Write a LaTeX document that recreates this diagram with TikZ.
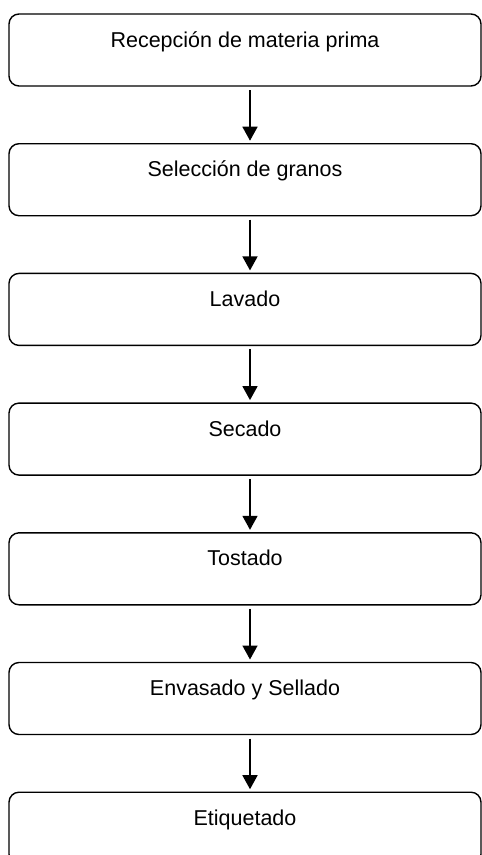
\documentclass[tikz,border=0pt]{standalone}
\usepackage{fontspec}
\setmainfont{Liberation Sans}
\usetikzlibrary{positioning}
\usetikzlibrary{arrows.meta}

\begin{document}
\begin{tikzpicture}[x=1pt,y=-1pt,
    stage/.style={draw,line width=1.4pt,rounded corners=10pt,minimum width=472pt,
        inner sep=0pt,outer sep=0pt,text height=33pt,text depth=39pt,
        font=\fontsize{21.5}{25}\selectfont},
    flow/.style={line width=1.6pt,-{Triangle[width=15pt,length=14pt]},
        shorten <=4pt,shorten >=3pt},
    node distance=57.7pt]
            \useasboundingbox (0,0) rectangle (482,855);
            %\draw[red] (0,0) rectangle (482,855);
            \node[stage] (recep) at (245,50) {Recepción de materia prima};
            \node[stage,below=of recep] (selec) {Selección de granos};
            \node[stage,below=of selec] (lav) {Lavado};
            \node[stage,below=of lav] (sec) {Secado};
            \node[stage,below=of sec] (tost) {Tostado};
            \node[stage,below=of tost] (envas) {Envasado y Sellado};
            \node[stage,below=of envas] (etiq) {Etiquetado};
            \draw[flow] ([xshift=5pt]recep.south)--([xshift=5pt]selec.north);
            \draw[flow] ([xshift=5pt]selec.south)--([xshift=5pt]lav.north);
            \draw[flow] ([xshift=5pt]lav.south)--([xshift=5pt]sec.north);
            \draw[flow] ([xshift=5pt]sec.south)--([xshift=5pt]tost.north);
            \draw[flow] ([xshift=5pt]tost.south)--([xshift=5pt]envas.north);
            \draw[flow] ([xshift=5pt]envas.south)--([xshift=5pt]etiq.north);
        \end{tikzpicture}
\end{document}
